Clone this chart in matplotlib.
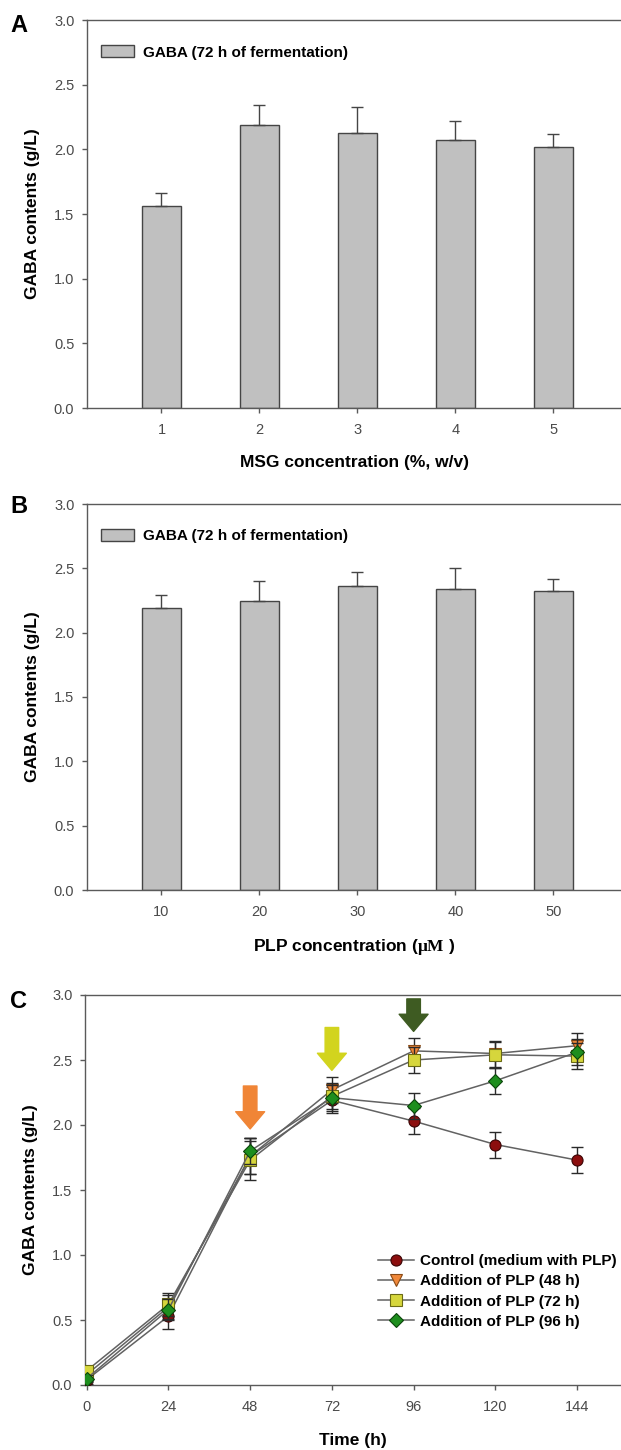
import matplotlib
matplotlib.use("Agg")
import matplotlib.pyplot as plt
import numpy as np

plt.rcParams['font.family'] = ['Liberation Sans', 'DejaVu Sans']
plt.rcParams['mathtext.fontset'] = 'custom'
plt.rcParams['mathtext.bf'] = 'Liberation Serif:bold'
plt.rcParams['mathtext.rm'] = 'Liberation Serif'

# ---------------- data ----------------
msg_conc = [1, 2, 3, 4, 5]
msg_gaba = [1.56, 2.19, 2.13, 2.07, 2.02]
msg_err = [0.10, 0.15, 0.20, 0.15, 0.10]

plp_conc = [10, 20, 30, 40, 50]
plp_gaba = [2.19, 2.25, 2.36, 2.34, 2.32]
plp_err = [0.10, 0.15, 0.11, 0.16, 0.10]

time_h = [0, 24, 48, 72, 96, 120, 144]
ctrl = [0.04, 0.53, 1.76, 2.19, 2.03, 1.85, 1.73]
ctrl_err = [0.03, 0.10, 0.14, 0.10, 0.10, 0.10, 0.10]
add48 = [0.08, 0.60, 1.76, 2.27, 2.57, 2.55, 2.61]
add48_err = [0.03, 0.09, 0.14, 0.10, 0.10, 0.10, 0.10]
add72 = [0.11, 0.62, 1.73, 2.22, 2.50, 2.54, 2.53]
add72_err = [0.03, 0.09, 0.15, 0.10, 0.10, 0.10, 0.10]
add96 = [0.05, 0.58, 1.80, 2.21, 2.15, 2.34, 2.56]
add96_err = [0.03, 0.08, 0.10, 0.10, 0.10, 0.10, 0.10]

arrow_x = [48, 72, 96]
arrow_top = [2.30, 2.75, 2.97]
arrow_tip = [1.97, 2.42, 2.72]
arrow_colors = ['#F08536', '#D2D41E', '#3E5B22']

# ---------------- layout ----------------
W, H = 621, 1450
fig = plt.figure(figsize=(W / 100, H / 100), dpi=100)

def px_axes(left, top, right, bottom):
    return fig.add_axes([left / W, 1 - bottom / H, (right - left) / W, (bottom - top) / H])

spine_col = '#5a5a5a'
tick_col = '#4a4a4a'
lab_font = dict(fontsize=12.5, fontweight='bold')

def style(ax):
    for s in ['left', 'bottom', 'top']:
        ax.spines[s].set_color(spine_col)
        ax.spines[s].set_linewidth(1.0)
    ax.spines['right'].set_visible(False)
    ax.tick_params(axis='both', direction='out', length=3.6, width=1.0,
                   colors=spine_col, labelcolor=tick_col, labelsize=10.5)
    ax.tick_params(axis='x', pad=7.0)
    ax.tick_params(axis='y', pad=5.5)
    ax.set_ylim(0, 3.0)
    ax.set_yticks(np.arange(0, 3.01, 0.5))
    ax.set_yticklabels([f'{v:.1f}' for v in np.arange(0, 3.01, 0.5)])

def bar_panel(ax, xlabels, vals, errs, xlabel):
    xs = np.arange(1, len(vals) + 1)
    ax.bar(xs, vals, width=0.40, color='#C0C0C0', edgecolor='#454545',
           linewidth=1.0, label='GABA (72 h of fermentation)', zorder=2)
    ax.errorbar(xs, vals, yerr=[np.zeros(len(errs)), errs], fmt='none',
                ecolor='#454545', elinewidth=1.0, capsize=4, capthick=1.0, zorder=3)
    ax.set_xlim(0.24, 5.69)
    ax.set_xticks(xs)
    ax.set_xticklabels([str(v) for v in xlabels])
    style(ax)
    ax.set_xlabel(xlabel, labelpad=13, **lab_font)
    ax.set_ylabel('GABA contents (g/L)', labelpad=10, **lab_font)
    ax.legend(loc='upper left', bbox_to_anchor=(0.026, 0.935), frameon=False,
              handlelength=2.2, handleheight=0.85, handletextpad=0.55,
              borderpad=0, borderaxespad=0,
              prop=dict(size=11, weight='bold'))

axA = px_axes(87, 20, 621, 408)
bar_panel(axA, msg_conc, msg_gaba, msg_err, 'MSG concentration (%, w/v)')
axB = px_axes(87, 504, 621, 890)
bar_panel(axB, plp_conc, plp_gaba, plp_err, r'PLP concentration ($\mathbf{μM}$ )')

# ---------------- panel C ----------------
axC = px_axes(85, 995, 621, 1385)
line_col = '#626262'
series = [
    (ctrl, ctrl_err, 'o', '#8C0E0E', '#3a0505', 'Control (medium with PLP)'),
    (add48, add48_err, 'v', '#F0883A', '#8a4a15', 'Addition of PLP (48 h)'),
    (add72, add72_err, 's', '#D6D63C', '#6a6a15', 'Addition of PLP (72 h)'),
    (add96, add96_err, 'D', '#1E8E1E', '#0a450a', 'Addition of PLP (96 h)'),
]
for i, (vals, errs, mk, fc, ec, lab) in enumerate(series):
    ms = 8 if mk != 'D' else 7
    axC.errorbar(time_h, vals, yerr=errs, fmt='none', ecolor='#2a2a2a',
                 elinewidth=1.0, capsize=4, capthick=1.0, zorder=3 + i)
    axC.plot(time_h, vals, '-', color=line_col, lw=1.1, marker=mk, ms=ms,
             mfc=fc, mec=ec, mew=0.8, label=lab, zorder=4 + i)

for xa, yt, yb, c in zip(arrow_x, arrow_top, arrow_tip, arrow_colors):
    axC.annotate('', xy=(xa, yb), xytext=(xa, yt),
                 arrowprops=dict(arrowstyle='simple,head_length=0.95,head_width=1.6,tail_width=0.75',
                                 color=c, mutation_scale=13, shrinkA=0, shrinkB=0),
                 zorder=10)

axC.set_xlim(-0.5, 156.9)
axC.set_xticks(time_h)
axC.set_xticklabels([str(t) for t in time_h])
style(axC)
axC.set_xlabel('Time (h)', labelpad=14, **lab_font)
axC.set_ylabel('GABA contents (g/L)', labelpad=10, **lab_font)
axC.legend(loc='upper left', bbox_to_anchor=(0.547, 0.335), frameon=False,
           handlelength=2.35, handletextpad=0.4, labelspacing=0.4,
           borderpad=0, borderaxespad=0, prop=dict(size=11, weight='bold'))

# panel letters
for lab, y in [('A', 32), ('B', 513), ('C', 1008)]:
    fig.text(10 / W, 1 - y / H, lab, fontsize=17, fontweight='bold', ha='left', va='baseline')

fig.savefig('out.png', dpi=100)
